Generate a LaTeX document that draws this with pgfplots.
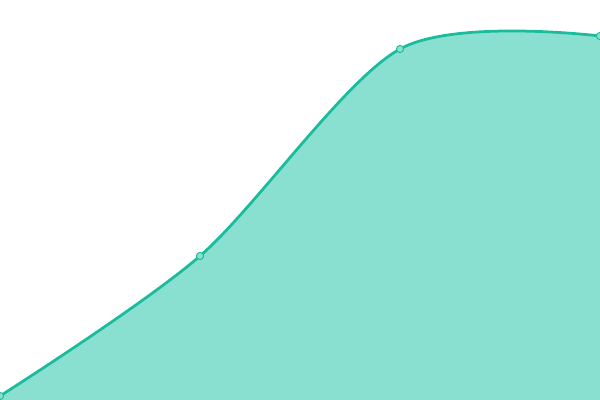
\documentclass[border=0pt]{standalone}
\usepackage{pgfplots}
\pgfplotsset{compat=1.18}
\definecolor{tealline}{HTML}{1ABC9C}
\definecolor{tealfill}{HTML}{8AE0D0}
\begin{document}
\begin{tikzpicture}
  \begin{axis}[
      width=6in, height=4in, scale only axis,
      axis lines=none, ticks=none,
      xmin=0, xmax=600, ymin=0, ymax=400,
      clip marker paths=true,
    ]
    % filled area under the smooth curve
    \addplot[draw=none, fill=tealfill, smooth, tension=0.5]
      coordinates {(0,4) (200,144) (400,351) (600,364)} \closedcycle;
    \addplot[tealline, line width=2pt, smooth, tension=0.5,
             mark=*, mark size=2.6pt,
             mark options={fill=tealfill, draw=tealline, line width=0.7pt}]
      coordinates {(0,4) (200,144) (400,351) (600,364)};
  \end{axis}
  \pgfresetboundingbox
  \path (current axis.south west) rectangle (current axis.north east);
\end{tikzpicture}
\end{document}
